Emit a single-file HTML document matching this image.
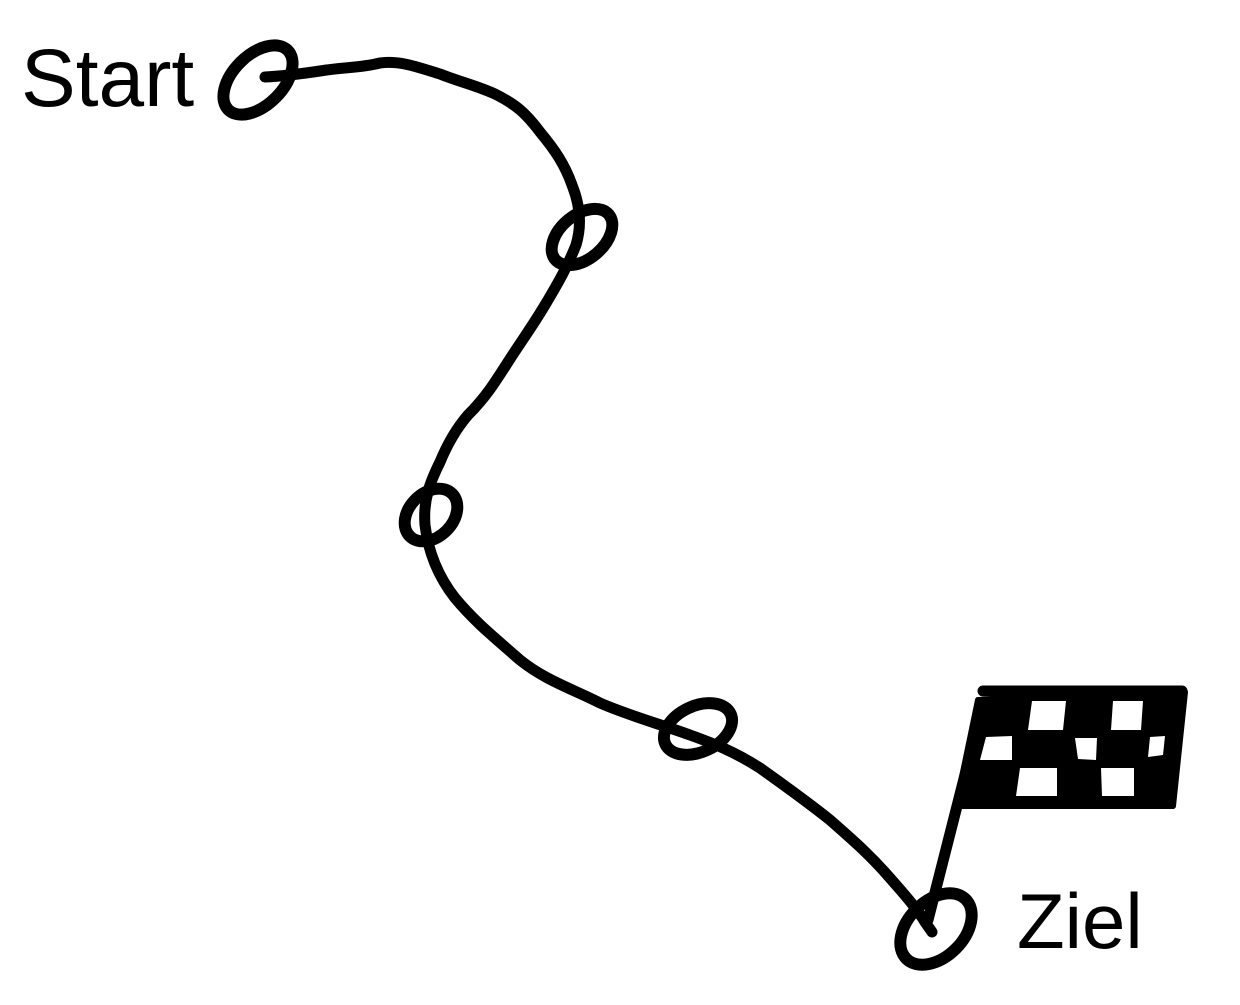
<!DOCTYPE html>
<html><head><style>html,body{margin:0;padding:0;background:#fff;}</style></head>
<body>
<svg width="1240" height="1000" viewBox="0 0 1240 1000" xmlns="http://www.w3.org/2000/svg">
<rect width="1240" height="1000" fill="#fff"/>
<g fill="none" stroke="#000" stroke-width="11" stroke-linecap="round" stroke-linejoin="round">
<path d="M265,77 C285,76 300,74 320,71 C345,67 360,68 380,63 C400,60 420,68 440,74 C460,82 475,85 495,94 C515,104 525,112 540,132 C555,150 565,165 572,185 C580,205 582,225 576,245 C568,265 560,280 545,305 C530,330 522,340 508,362 C494,384 485,398 468,415 C455,430 447,445 440,462 C430,482 423,500 425,525 C428,550 437,575 455,598 C475,622 495,638 520,660 C545,680 570,688 600,703 C630,716 660,724 690,735 C715,744 735,752 760,768 C785,786 805,800 830,820 C855,842 870,855 890,878 C905,895 918,910 925,922 L932,932"/>
<ellipse cx="258" cy="80" rx="42" ry="25" transform="rotate(-45 258 80)" stroke-width="12"/>
<ellipse cx="582" cy="237" rx="35" ry="22" transform="rotate(-40 582 237)" stroke-width="12"/>
<ellipse cx="431" cy="515" rx="30" ry="22" transform="rotate(-45 431 515)" stroke-width="12"/>
<ellipse cx="698" cy="729" rx="36" ry="23" transform="rotate(-25 698 729)" stroke-width="12"/>
<ellipse cx="936" cy="929" rx="42" ry="28" transform="rotate(-45 936 929)" stroke-width="12"/>
<path d="M928,920 L982,708"/>
<path d="M983,691 L1182,691"/>
</g>
<polygon points="978,700 1185,692 1173,806 956,806" fill="#000" stroke="#000" stroke-width="6" stroke-linejoin="round"/>
<g fill="#fff">
<polygon points="1032,701 1066,701 1063,730 1028,730"/>
<polygon points="1113,701 1143,701 1141,730 1111,730"/>
<polygon points="986,737 1012,736 1012,760 980,760"/>
<polygon points="1075,738 1097,738 1096,760 1078,759"/>
<polygon points="1150,737 1165,736 1163,755 1148,757"/>
<polygon points="1020,768 1057,768 1057,796 1016,796"/>
<polygon points="1101,768 1134,768 1134,796 1102,796"/>
</g>
<text x="21" y="106" font-family="Liberation Sans, sans-serif" font-size="82" fill="#000">Start</text>
<text x="1017" y="948" font-family="Liberation Sans, sans-serif" font-size="78" fill="#000">Ziel</text>
</svg>
</body></html>
